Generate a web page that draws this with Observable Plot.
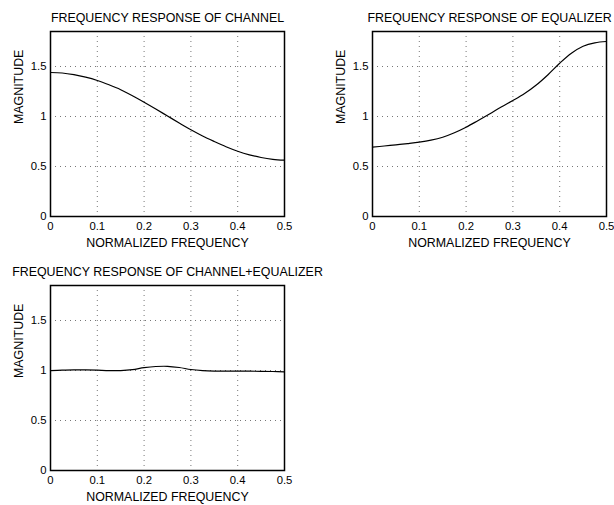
<!DOCTYPE html>
<html>
<head>
<meta charset="utf-8">
<script src="https://cdn.jsdelivr.net/npm/d3@7"></script>
<script src="https://cdn.jsdelivr.net/npm/@observablehq/plot@0.6"></script>
<style>
  html, body { margin: 0; padding: 0; background: #fff; }
  #wrap { position: relative; width: 614px; height: 505px; overflow: hidden; background: #fff; }
  #wrap > div, #wrap > svg { position: absolute; }
</style>
</head>
<body>
<div id="wrap"></div>
<script>
// ---- data ----
const freq = [0, 0.025, 0.05, 0.075, 0.1, 0.125, 0.15, 0.175, 0.2, 0.225, 0.25,
              0.275, 0.3, 0.325, 0.35, 0.375, 0.4, 0.425, 0.45, 0.475, 0.5];
const channel = [1.44, 1.435, 1.418, 1.393, 1.36, 1.317, 1.268, 1.208, 1.143, 1.075, 1.005,
                 0.935, 0.867, 0.805, 0.75, 0.698, 0.653, 0.617, 0.59, 0.572, 0.563];
const equalizer = [0.693, 0.705, 0.717, 0.729, 0.743, 0.763, 0.793, 0.838, 0.893, 0.958, 1.025,
                   1.095, 1.16, 1.23, 1.315, 1.418, 1.533, 1.633, 1.703, 1.737, 1.75];
const combined = [0.998, 1.003, 1.007, 1.006, 1.003, 0.999, 0.999, 1.008, 1.028, 1.04, 1.042,
                  1.03, 1.01, 0.999, 0.994, 0.993, 0.993, 0.993, 0.992, 0.99, 0.987];
const xTicks = [0, 0.1, 0.2, 0.3, 0.4, 0.5];
const xTickLabels = ["0", "0.1", "0.2", "0.3", "0.4", "0.5"];
const yTicks = [0, 0.5, 1, 1.5];
const yTickLabels = ["0", "0.5", "1", "1.5"];
const titles = ["FREQUENCY RESPONSE OF CHANNEL", "FREQUENCY RESPONSE OF EQUALIZER", "FREQUENCY RESPONSE OF CHANNEL+EQUALIZER"];
const xLabel = "NORMALIZED FREQUENCY";
const yLabel = "MAGNITUDE";

const FONT = "'Liberation Sans', Arial, Helvetica, sans-serif";
const xFmt = d => xTickLabels[xTicks.findIndex(t => Math.abs(t - d) < 1e-9)];
const yFmt = d => yTickLabels[yTicks.findIndex(t => Math.abs(t - d) < 1e-9)];

function panel(values, title, layout) {
  const data = freq.map((f, i) => ({f, v: values[i]}));
  return Plot.plot({
    width: layout.width,
    height: layout.height,
    marginLeft: layout.ml,
    marginRight: layout.mr,
    marginTop: layout.mt,
    marginBottom: layout.mb,
    style: {fontFamily: FONT, fontSize: "11.3px", background: "transparent", color: "#000", overflow: "visible"},
    x: {domain: [0, 0.5], ticks: xTicks, tickFormat: xFmt, tickSize: 0, tickPadding: 5, label: null},
    y: {domain: [0, 1.85], ticks: yTicks, tickFormat: yFmt, tickSize: 0, tickPadding: 4, label: null},
    marks: [
      Plot.ruleX(xTicks.slice(1, -1), {stroke: "#777", strokeWidth: 1, strokeDasharray: "1,4"}),
      Plot.ruleY(yTicks.slice(1), {stroke: "#777", strokeWidth: 1, strokeDasharray: "1,4"}),
      Plot.line(data, {x: "f", y: "v", stroke: "#000", strokeWidth: 1.2, curve: "catmull-rom"}),
      Plot.frame({stroke: "#000", strokeWidth: 1.5}),
      Plot.text([title], {frameAnchor: "top", dy: -10, lineAnchor: "bottom", fontSize: 12.4, fill: "#000"}),
      Plot.text([xLabel], {frameAnchor: "bottom", dy: 30, lineAnchor: "bottom", fontSize: 12.4, fill: "#000"}),
      Plot.text([yLabel], {frameAnchor: "left", dx: -31, rotate: -90, lineAnchor: "middle", fontSize: 12.4, fill: "#000"})
    ]
  });
}

const wrap = document.getElementById("wrap");
const p1 = panel(channel, titles[0], {width: 307, height: 250, ml: 50, mr: 23, mt: 31, mb: 34});
const p2 = panel(equalizer, titles[1], {width: 307, height: 250, ml: 65, mr: 8, mt: 31, mb: 34});
const p3 = panel(combined, titles[2], {width: 614, height: 255, ml: 50, mr: 330, mt: 35, mb: 35});
[[p1, 0, 0], [p2, 307, 0], [p3, 0, 250]].forEach(([el, x, y]) => {
  el.style.left = x + "px";
  el.style.top = y + "px";
  wrap.appendChild(el);
});
</script>
</body>
</html>
